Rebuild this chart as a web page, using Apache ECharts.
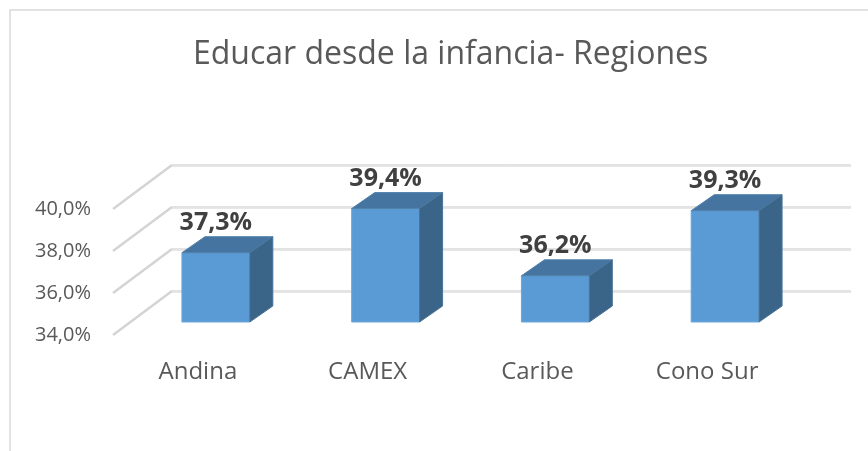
<!DOCTYPE html>
<html>
<head>
<meta charset="utf-8">
<script src="https://cdn.jsdelivr.net/npm/echarts@6/dist/echarts.min.js"></script>
<style>
  html, body { margin: 0; padding: 0; background: #fff; }
  #chart-container { width: 868px; height: 451px; }
</style>
</head>
<body>
<div id="chart-container"></div>
<script>
const categories = ['Andina', 'CAMEX', 'Caribe', 'Cono Sur'];
const values = [37.3, 39.4, 36.2, 39.3];
const yTicks = [34, 36, 38, 40];

const fmt = v => v.toFixed(1).replace('.', ',') + '%';

// oblique offsets from the bar front plane
const back = [41, -31];
const front = [-18, 13];
const depth = [23, -16];

const start = () => {
  const chartDom = document.getElementById('chart-container');
  const myChart = echarts.init(chartDom, null, { renderer: 'canvas' });

  const option = {
    animation: false,
    title: {
      text: 'Educar desde la infancia- Regiones',
      left: 188,
      top: 34,
      textStyle: { fontFamily: 'Open Sans', fontSize: 32, fontWeight: 'normal', color: '#595959' }
    },
    graphic: [{
      type: 'rect',
      shape: { x: 10, y: 10, width: 900, height: 500 },
      style: { fill: 'none', stroke: '#d9d9d9', lineWidth: 1.5 },
      silent: true
    }],
    grid: [
      { left: 131, right: 58, top: 196, bottom: 129 },
      { left: 113, right: 76, top: 209, bottom: 116 }
    ],
    xAxis: [
      { type: 'category', data: categories, gridIndex: 0, show: false },
      {
        type: 'category', data: categories, gridIndex: 1,
        axisLine: { show: false }, axisTick: { show: false },
        axisLabel: { margin: 25, fontFamily: 'Open Sans', fontSize: 24, color: '#595959' }
      }
    ],
    yAxis: [
      { type: 'value', min: 34, max: 40, interval: 2, gridIndex: 0, show: false },
      {
        type: 'value', min: 34, max: 40, interval: 2, gridIndex: 1,
        axisLine: { show: false }, axisTick: { show: false }, splitLine: { show: false },
        axisLabel: { margin: 22, formatter: fmt, fontFamily: 'Open Sans', fontSize: 20, color: '#595959' }
      }
    ],
    series: [
      {
        type: 'custom',
        name: 'walls',
        xAxisIndex: 0, yAxisIndex: 0,
        silent: true,
        data: yTicks.map(t => [0, t]),
        renderItem: (params, api) => {
          const cs = params.coordSys;
          const y = api.coord([0, api.value(1)])[1];
          const left = cs.x, right = cs.x + cs.width;
          return {
            type: 'group',
            children: [
              {
                type: 'line',
                shape: { x1: left + front[0], y1: y + front[1], x2: left + back[0], y2: y + back[1] },
                style: { stroke: '#d4d4d4', lineWidth: 2.5 }
              },
              {
                type: 'line',
                shape: { x1: left + back[0], y1: y + back[1] + 1, x2: right + back[0], y2: y + back[1] + 1 },
                style: { stroke: '#cfcfcf', lineWidth: 1 }
              },
              {
                type: 'line',
                shape: { x1: left + back[0], y1: y + back[1], x2: right + back[0], y2: y + back[1] },
                style: { stroke: '#e3e3e3', lineWidth: 2 }
              }
            ]
          };
        }
      },
      {
        type: 'custom',
        name: 'Regiones',
        xAxisIndex: 0, yAxisIndex: 0,
        data: values.map((v, i) => [i, v]),
        renderItem: (params, api) => {
          const i = api.value(0);
          const top = api.coord([i, api.value(1)]);
          const bottom = api.coord([i, 34]);
          const w = api.size([1, 0])[0] * 0.4;
          const x0 = top[0] - w / 2, x1 = top[0] + w / 2;
          const yt = top[1], yb = bottom[1];
          const dx = depth[0], dy = depth[1];
          return {
            type: 'group',
            children: [
              {
                type: 'rect',
                shape: { x: x0, y: yt, width: w, height: yb - yt },
                style: { fill: '#5b9bd5', stroke: '#6da6da', lineWidth: 1 }
              },
              {
                type: 'polygon',
                shape: { points: [[x0, yt], [x1, yt], [x1 + dx, yt + dy], [x0 + dx, yt + dy]] },
                style: { fill: '#44749f', stroke: '#5282ad', lineWidth: 1 }
              },
              {
                type: 'polygon',
                shape: { points: [[x1, yt], [x1 + dx, yt + dy], [x1 + dx, yb + dy], [x1, yb]] },
                style: { fill: '#3a6488', stroke: '#4a7499', lineWidth: 1 }
              },
              {
                type: 'text',
                style: {
                  x: top[0], y: yt + dy - 14,
                  text: fmt(api.value(1)),
                  textAlign: 'center', textVerticalAlign: 'middle',
                  fontFamily: 'Open Sans', fontSize: 25, fontWeight: 'bold', fill: '#404040'
                }
              }
            ]
          };
        }
      }
    ]
  };
  myChart.setOption(option);
};

start();
</script>
</body>
</html>
